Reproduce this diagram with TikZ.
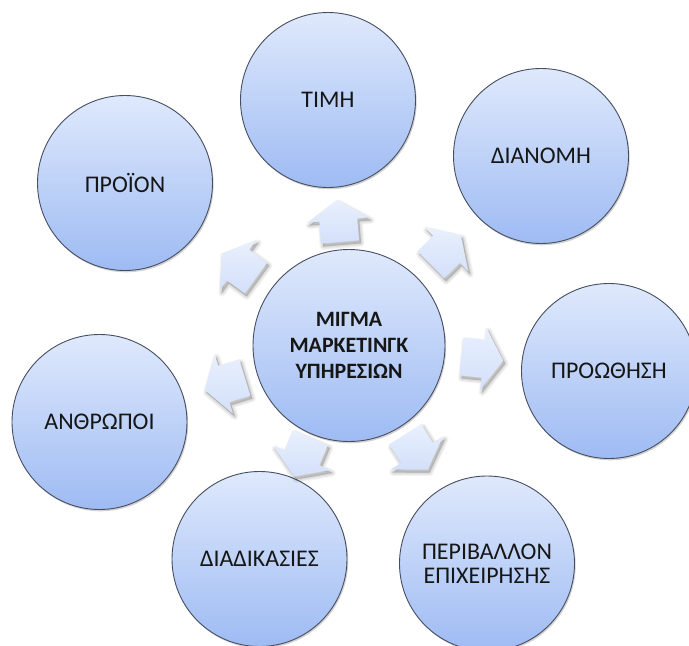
\documentclass[tikz,border=0pt]{standalone}
\usepackage{fontspec}
\setmainfont{Carlito}
\usetikzlibrary{calc,shadows}

\definecolor{discTop}{RGB}{223,233,252}
\definecolor{discBottom}{RGB}{158,187,243}
\definecolor{discEdge}{RGB}{70,78,96}
\definecolor{arrowTop}{RGB}{233,240,253}
\definecolor{arrowBottom}{RGB}{211,224,250}
\definecolor{labelInk}{RGB}{22,22,22}

\tikzset{
  disc/.style={circle, draw=discEdge, line width=0.9bp,
    top color=discTop, bottom color=discBottom,
    minimum size=175bp, inner sep=0pt, align=center, text=labelInk,
    font=\fontsize{24}{24}\selectfont,
    drop shadow={opacity=0.35, shadow xshift=1.2bp, shadow yshift=-1.8bp}},
  hub/.style={disc, minimum size=192bp,
    font=\fontsize{22}{26}\selectfont\bfseries},
  spokefill/.style={top color=arrowTop, bottom color=arrowBottom, draw=none},
  spokeshade/.style={fill=black, draw=black, fill opacity=0.045,
    draw opacity=0.045, line join=round}
}

% block arrow pointing along +x, centred on the origin
\def\spokeoutline{(-21,-19) -- (1,-19) -- (1,-31) -- (21,0) -- (1,31) -- (1,19) -- (-21,19) -- cycle}

\begin{document}
\begin{tikzpicture}[x=1bp,y=1bp]
\fill[white] (0,0) rectangle (689,-646);
\useasboundingbox (0,0) rectangle (689,-646);

% central disc and the seven surrounding discs
\node[hub] (hub) at (349,-345.5) {ΜΙΓΜΑ\\ΜΑΡΚΕΤΙΝΓΚ\\ΥΠΗΡΕΣΙΩΝ};
\node[disc] (timi) at (328,-100) {ΤΙΜΗ};
\node[disc] (dianomi) at (541,-156) {ΔΙΑΝΟΜΗ};
\node[disc] (proothisi) at (609,-371) {ΠΡΟΩΘΗΣΗ};
\node[disc] (perivallon) at (487,-563.5) {ΠΕΡΙΒΑΛΛΟΝ\\ΕΠΙΧΕΙΡΗΣΗΣ};
\node[disc] (diadikasies) at (259.5,-559) {ΔΙΑΔΙΚΑΣΙΕΣ};
\node[disc] (anthropoi) at (99.5,-422) {ΑΝΘΡΩΠΟΙ};
\node[disc] (proion) at (125,-183) {ΠΡΟΪΟΝ};

% block arrows from the hub towards each disc
\foreach \t/\d in {timi/125, dianomi/136, proothisi/134, perivallon/126,
                   diadikasies/121, anthropoi/130, proion/136}{
  \coordinate (spoke-\t) at ($(hub)!\d bp!(\t)$);
  \pgfmathanglebetweenpoints{\pgfpointanchor{hub}{center}}{\pgfpointanchor{\t}{center}}
  \let\spokeangle\pgfmathresult
  \begin{scope}[shift={($(spoke-\t)+(2,-3)$)}, rotate=\spokeangle]
    \foreach \w in {1,3,5,7}
      \path[spokeshade, line width=\w bp] \spokeoutline;
  \end{scope}
  \begin{scope}[shift={(spoke-\t)}, rotate=\spokeangle]
    \path[spokefill] \spokeoutline;
  \end{scope}
}
\end{tikzpicture}
\end{document}
